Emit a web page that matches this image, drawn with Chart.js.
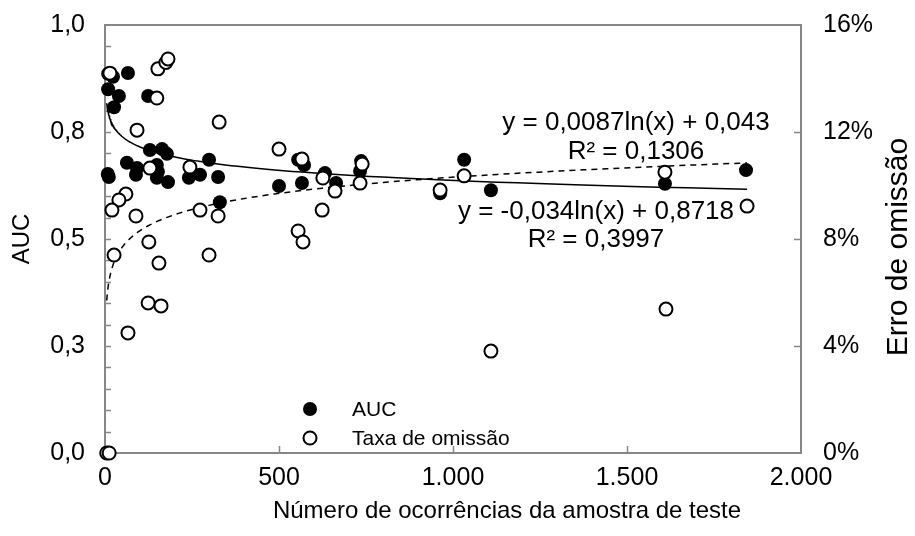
<!DOCTYPE html>
<html>
<head>
<meta charset="utf-8">
<script src="https://cdn.jsdelivr.net/npm/chart.js@4.4.1/dist/chart.umd.min.js"></script>
<style>
  body { margin: 0; background: #fff; }
  #wrap { width: 915px; height: 536px; }
</style>
</head>
<body>
<div id="wrap"><canvas id="myChart"></canvas></div>
<script>
// auc_omissao.js

const FONT = "'Liberation Sans', Arial, sans-serif";

// AUC (filled dots) vs number of test occurrences
const aucX = [9, 23, 66, 9, 40, 26, 124, 129, 164, 178, 8, 11, 63, 92, 89, 149, 152, 149, 181, 241,
  273, 299, 325, 330, 500, 566, 555, 572, 632, 664, 736, 733, 963, 1032, 1109, 1609, 1842];
const aucValues = [0.886, 0.879, 0.888, 0.850, 0.834, 0.808, 0.834, 0.708, 0.710, 0.699, 0.652, 0.645,
  0.678, 0.666, 0.650, 0.673, 0.657, 0.643, 0.633, 0.643, 0.650, 0.685, 0.645, 0.586, 0.624, 0.631,
  0.685, 0.673, 0.654, 0.631, 0.682, 0.659, 0.607, 0.685, 0.614, 0.629, 0.661];

// omission rate in % (open dots)
const omX = [14, 152, 175, 181, 149, 92, 328, 129, 244, 60, 40, 20, 89, 273, 325, 126, 26, 155, 299,
  124, 161, 66, 500, 566, 626, 661, 624, 555, 569, 739, 733, 963, 1032, 1109, 1609, 1845, 1612, 5, 12];
const omValues = [14.2, 14.36, 14.6, 14.73, 13.27, 12.07, 12.37, 10.65, 10.69, 9.68, 9.46, 9.08, 8.86,
  9.08, 8.86, 7.89, 7.40, 7.10, 7.40, 5.61, 5.50, 4.49, 11.36, 10.99, 10.28, 9.79, 9.08, 8.30, 7.89,
  10.80, 10.09, 9.83, 10.36, 3.81, 10.50, 9.23, 5.38, 0, 0];

const xTicks = [0, 500, 1000, 1500, 2000];
const aucTicks = [0, 0.25, 0.5, 0.75, 1];
const omTicks = [0, 4, 8, 12, 16];

// log trendlines as printed on the chart
const aucFit = { a: -0.034, b: 0.8718 };
const omFit = { a: 0.0087, b: 0.043 };
const fitRange = [5, 1845];

const fitX = [];
for (let i = 0; i <= 120; i++) {
  fitX.push(fitRange[0] * Math.pow(fitRange[1] / fitRange[0], i / 120));
}

const fmtThousands = v => String(v).replace(/\B(?=(\d{3})+(?!\d))/g, ".");

const decor = {
  id: "decor",
  beforeDatasetsDraw(chart) {
    const { ctx, chartArea: a, scales } = chart;
    ctx.save();
    ctx.strokeStyle = "#878787";
    ctx.lineWidth = 2;
    ctx.beginPath();
    ctx.moveTo(a.left, a.top);
    ctx.lineTo(a.right, a.top);
    ctx.stroke();

    ctx.lineWidth = 1.5;
    ctx.beginPath();
    for (let i = 1; i < 20; i++) {
      const y = Math.round(scales.y.getPixelForValue(i / 20)) + 0.5;
      ctx.moveTo(a.left, y);
      ctx.lineTo(a.left + 6, y);
    }
    omTicks.slice(1, -1).forEach(v => {
      const y = Math.round(scales.y1.getPixelForValue(v)) + 0.5;
      ctx.moveTo(a.right, y);
      ctx.lineTo(a.right - 7, y);
    });
    xTicks.slice(1, -1).forEach(v => {
      const x = Math.round(scales.x.getPixelForValue(v)) + 0.5;
      ctx.moveTo(x, a.bottom);
      ctx.lineTo(x, a.bottom - 7);
    });
    ctx.stroke();
    ctx.restore();
  },
  afterDraw(chart) {
    const { ctx } = chart;
    ctx.save();
    ctx.fillStyle = "#000";
    ctx.textBaseline = "middle";

    // trendline equations
    ctx.font = "26px " + FONT;
    ctx.textAlign = "center";
    ctx.fillText("y = 0,0087ln(x) + 0,043", 636, 123);
    ctx.fillText("R² = 0,1306", 636, 152);
    ctx.fillText("y = -0,034ln(x) + 0,8718", 596, 212);
    ctx.fillText("R² = 0,3997", 596, 240);

    // legend
    ctx.font = "21px " + FONT;
    ctx.textAlign = "left";
    ctx.fillText("AUC", 352, 410);
    ctx.fillText("Taxa de omissão", 352, 439);
    ctx.lineWidth = 2;
    ctx.strokeStyle = "#000";
    ctx.beginPath();
    ctx.arc(310, 409, 7, 0, Math.PI * 2);
    ctx.fill();
    ctx.beginPath();
    ctx.arc(310, 438, 6.5, 0, Math.PI * 2);
    ctx.fillStyle = "#fff";
    ctx.fill();
    ctx.stroke();

    // x axis title
    ctx.fillStyle = "#000";
    ctx.font = "24px " + FONT;
    ctx.textAlign = "center";
    ctx.fillText("Número de ocorrências da amostra de teste", 507, 511);

    // right axis title, reading bottom to top
    ctx.font = "30px " + FONT;
    ctx.translate(899, 247);
    ctx.rotate(-Math.PI / 2);
    ctx.fillText("Erro de omissão", 0, 0);
    ctx.restore();
  }
};

const ctx = document.getElementById("myChart").getContext("2d");

new Chart(ctx, {
  type: "scatter",
  data: {
    datasets: [
      {
        label: "Taxa de omissão",
        data: omX.map((x, i) => ({ x: x, y: omValues[i] })),
        yAxisID: "y1",
        pointRadius: 6.5,
        pointBorderWidth: 2,
        pointBackgroundColor: "#fff",
        pointBorderColor: "#000",
        clip: false,
        order: 0
      },
      {
        label: "AUC",
        data: aucX.map((x, i) => ({ x: x, y: aucValues[i] })),
        yAxisID: "y",
        pointRadius: 7,
        pointBorderWidth: 0,
        pointBackgroundColor: "#000",
        pointBorderColor: "#000",
        clip: false,
        order: 1
      },
      {
        label: "Log. (AUC)",
        data: fitX.map(x => ({ x: x, y: aucFit.a * Math.log(x) + aucFit.b })),
        yAxisID: "y",
        showLine: true,
        pointRadius: 0,
        borderColor: "#000",
        borderWidth: 1.5,
        order: 2
      },
      {
        label: "Log. (Taxa de omissão)",
        data: fitX.map(x => ({ x: x, y: 100 * (omFit.a * Math.log(x) + omFit.b) })),
        yAxisID: "y1",
        showLine: true,
        pointRadius: 0,
        borderColor: "#000",
        borderWidth: 1.5,
        borderDash: [6, 5],
        order: 3
      }
    ]
  },
  options: {
    responsive: true,
    maintainAspectRatio: false,
    animation: false,
    layout: { padding: { top: 25 } },
    plugins: {
      legend: { display: false },
      tooltip: { enabled: false }
    },
    scales: {
      x: {
        type: "linear",
        position: "bottom",
        min: 0,
        max: 2000,
        afterBuildTicks: s => { s.ticks = xTicks.map(v => ({ value: v })); },
        afterFit: s => { s.height = 83; s.paddingLeft = 0; s.paddingRight = 0; },
        grid: { display: false, drawTicks: false },
        border: { display: true, color: "#878787", width: 2 },
        ticks: {
          color: "#000",
          font: { family: FONT, size: 25 },
          padding: 10,
          maxRotation: 0,
          callback: v => fmtThousands(v)
        }
      },
      y: {
        position: "left",
        min: 0,
        max: 1,
        afterBuildTicks: s => { s.ticks = aucTicks.map(v => ({ value: v })); },
        afterFit: s => { s.width = 105; s.paddingTop = 0; s.paddingBottom = 0; },
        grid: { display: false, drawTicks: false },
        border: { display: true, color: "#878787", width: 2 },
        ticks: {
          color: "#000",
          font: { family: FONT, size: 25 },
          padding: 20,
          callback: v => (Math.round(v * 10) / 10).toFixed(1).replace(".", ",")
        },
        title: {
          display: true,
          text: "AUC",
          color: "#000",
          font: { family: FONT, size: 24 },
          padding: { top: 8, bottom: 0 }
        }
      },
      y1: {
        position: "right",
        min: 0,
        max: 16,
        afterBuildTicks: s => { s.ticks = omTicks.map(v => ({ value: v })); },
        afterFit: s => { s.width = 114; s.paddingTop = 0; s.paddingBottom = 0; },
        grid: { display: false, drawTicks: false },
        border: { display: true, color: "#878787", width: 2 },
        ticks: {
          color: "#000",
          font: { family: FONT, size: 25 },
          padding: 22,
          callback: v => Math.round(v) + "%"
        }
      }
    }
  },
  plugins: [decor]
});
</script>
</body>
</html>
